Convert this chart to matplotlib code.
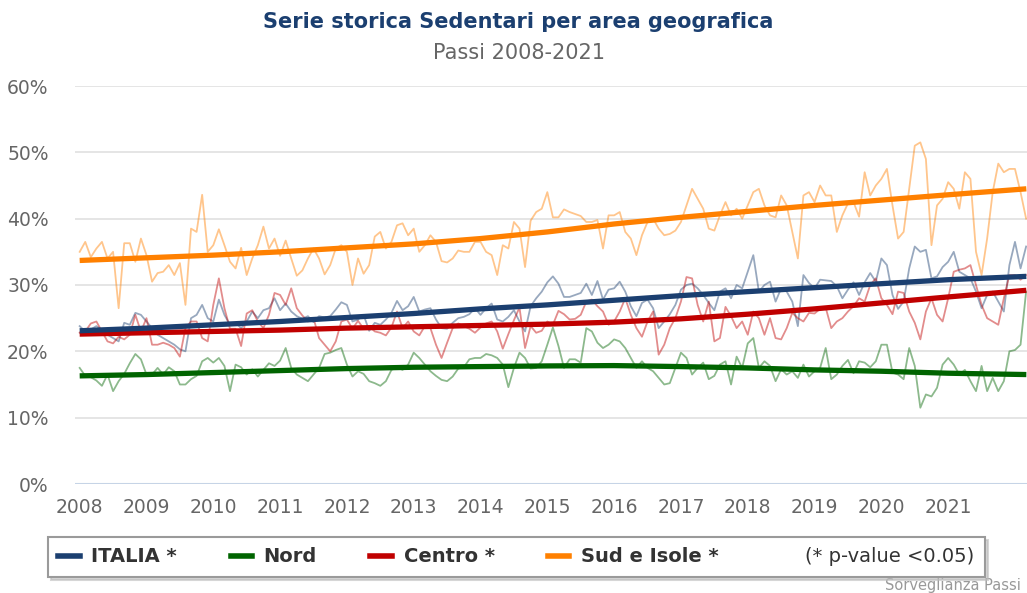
import numpy as np
import matplotlib
matplotlib.use("Agg")
import matplotlib.pyplot as plt
from matplotlib.lines import Line2D

# monthly values (%), Jan 2008 onwards
italia = [23.8, 23, 23.3, 23.8, 23.2, 22.5, 22, 21.5, 24.3, 24, 25.8, 25.5,
          24.5, 23.5, 22.5, 22, 21.5, 21, 20.3, 20, 25, 25.5, 27, 25,
          24.5, 27.8, 25.5, 24, 24.3, 23.5, 24.5, 26, 25, 26.2, 26.5, 28,
          26.2, 27.2, 26, 25.3, 24.9, 25.3, 24.4, 25.3, 25.1, 25.3, 26.3, 27.4,
          27, 24.5, 24.8, 25.5, 23.1, 24.3, 24, 24.8, 25.8, 27.6, 26.2, 26.8,
          28.2, 26, 26.3, 26.5, 24.8, 23.5, 23.4, 24.3, 25, 25.2, 25.6, 26.5,
          25.5, 26.5, 27.2, 24.8, 24.5, 25.2, 26.2, 24.5, 23, 26.8, 28, 29,
          30.4, 31.3, 30.2, 28.2, 28.2, 28.5, 28.8, 30.2, 28.5, 30.6, 27.8, 29.3,
          29.5, 30.5, 29, 26.8, 25.3, 27.3, 27.8, 26.5, 23.5, 24.5, 25.6, 27,
          29.3, 30, 30.2, 29.5, 28.5, 27.3, 26.2, 29, 29.5, 28, 30, 29.5,
          32, 34.5, 29, 30, 30.5, 27.5, 29.5, 29, 27.5, 23.8, 31.5, 30.3,
          29.5, 30.8, 30.7, 30.6, 29.8, 28, 29.3, 30.4, 28.5, 30.4, 31.8, 30.5,
          34, 33, 28.5, 26.4, 27.5, 32.5, 35.8, 35, 35.3, 31, 31.3, 32.7,
          33.5, 35, 32, 31.5, 31, 29, 26.5, 28.5, 29, 27.5, 26, 33,
          36.5, 32.5, 35.8]

nord = [17.5, 16.3, 16.1, 15.6, 14.8, 16.5, 14, 15.5, 16.6, 18.2, 19.6, 18.8,
        16.5, 16.5, 17.5, 16.5, 17.6, 17, 15, 15, 15.8, 16.3, 18.5, 19,
        18.3, 19, 17.8, 14, 18, 17.6, 16.5, 17.3, 16.2, 17.2, 18.2, 17.8,
        18.6, 20.5, 17.5, 16.5, 16, 15.5, 16.5, 17.5, 19.6, 19.8, 20.2, 20.5,
        18, 16.2, 17, 16.6, 15.5, 15.2, 14.8, 15.5, 17.2, 17.6, 17.2, 18,
        19.8, 19, 18, 17, 16.3, 15.7, 15.5, 16.2, 17.4, 17.6, 18.8, 19,
        19, 19.6, 19.4, 19, 18, 14.6, 17.5, 19.8, 19, 17.4, 17.5, 18.5,
        21, 23.6, 20.8, 17.5, 18.8, 18.8, 18.3, 23.5, 23, 21.3, 20.5, 21,
        21.8, 21.5, 20.5, 19, 17.5, 18.5, 17.5, 17, 16, 15, 15.2, 17.5,
        19.8, 19, 16.5, 17.5, 18.3, 15.8, 16.3, 18, 18.5, 15, 19.2, 17.5,
        21.2, 22, 17.5, 18.5, 17.8, 15.5, 17.3, 16.5, 17, 16, 18, 16.2,
        17, 17.5, 20.5, 15.8, 16.5, 17.8, 18.7, 16.7, 18.5, 18.3, 17.6, 18.5,
        21, 21, 16.8, 16.5, 15.8, 20.5, 17.8, 11.5, 13.5, 13.2, 14.5, 18,
        19, 18, 16.5, 17.2, 15.5, 14, 17.8, 14, 16, 14, 15.5, 20,
        20.2, 21, 29]

centro = [22.8, 23, 24.2, 24.5, 23, 21.5, 21.2, 22.2, 21.8, 22.5, 25.5, 23,
          25, 21, 21, 21.3, 21, 20.5, 19.2, 23.5, 24.5, 24.5, 22, 21.5,
          27, 31, 26.5, 23.4, 23.4, 20.8, 25.7, 26.2, 24.5, 23.5, 25.5, 28.8,
          28.5, 27, 29.5, 26.5, 25.4, 24.5, 25, 22, 21, 20, 21.5, 24.5,
          24.8, 23.4, 24.6, 23.4, 23.8, 23, 22.8, 22.4, 23.6, 26, 23.5, 24.5,
          23, 22.4, 23.8, 23.5, 21, 19, 21.3, 23.5, 24.2, 23.8, 23.4, 22.8,
          23.6, 24.2, 24.5, 23, 20.4, 22.6, 24.7, 26.6, 20.5, 23.8, 22.8, 23.1,
          24.5, 24, 26.1, 25.6, 24.8, 24.9, 25.5, 27.5, 27.8, 26.8, 26, 24,
          24.5, 26, 28, 25.5, 23.5, 22.2, 24.5, 26, 19.5, 21, 23.5, 25,
          27.5, 31.2, 31, 27, 24.5, 27.5, 21.5, 22, 26.7, 25.3, 23.5, 24.5,
          22.5, 26, 25, 22.5, 25, 22, 21.8, 23.5, 25.8, 25, 24.5, 25.8,
          25.7, 26.4, 26.6, 23.5, 24.5, 25, 26, 26.8, 28, 27.5, 30, 31,
          28, 27, 25.6, 29, 28.8, 26, 24.3, 21.8, 26, 28, 25.5, 24.5,
          28, 32, 32.3, 32.5, 33, 30, 27, 25, 24.5, 24, 28, 31.5,
          31.5, 30.8, 31.5]

sud = [35, 36.5, 34.2, 35.5, 36.5, 34, 35, 26.5, 36.3, 36.3, 33.5, 37,
       34.5, 30.5, 31.8, 32, 33, 31.5, 33.3, 27, 38.5, 38, 43.6, 35,
       36, 38.4, 36, 33.5, 32.5, 35.6, 31.5, 34, 36, 38.8, 35.5, 37,
       34.4, 36.7, 34, 31.4, 32.2, 34, 35.5, 34, 31.6, 33, 35.5, 36,
       35, 30, 34, 31.7, 33, 37.3, 38, 35.5, 36.5, 39, 39.3, 37.5,
       38.5, 35, 36, 37.5, 36.5, 33.6, 33.4, 34, 35.2, 35, 35, 36.5,
       36.5, 35, 34.5, 31.5, 36, 35.5, 39.5, 38.5, 32.7, 39.7, 41, 41.5,
       44, 40.2, 40.2, 41.4, 41, 40.7, 40.4, 39.5, 39.5, 39.8, 35.5, 40.5,
       40.5, 41, 38, 37, 34.5, 37.5, 39.5, 40, 38.5, 37.5, 37.7, 38.2,
       39.5, 42, 44.5, 43, 41.5, 38.5, 38.2, 40.5, 42.5, 40.5, 41.5, 40,
       42, 44, 44.5, 42, 40.5, 40.2, 43.5, 42, 38, 34, 43.5, 44,
       42.5, 45, 43.5, 43.5, 38, 40.5, 42.3, 42.5, 40.3, 47, 43.5, 45,
       46, 47.5, 42, 37, 38, 44.5, 51, 51.5, 49, 36, 42, 43,
       45.5, 44.5, 41.5, 47, 46, 35, 31.5, 37, 44, 48.3, 47, 47.5,
       47.5, 44, 40]

# trend lines
trend_years = [2008, 2009, 2010, 2011, 2012, 2013, 2014, 2015, 2016, 2017,
               2018, 2019, 2020, 2021, 2022.17]
italia_trend = [23.1, 23.5, 24.0, 24.5, 25.1, 25.7, 26.4, 27.0, 27.7, 28.4,
                29.0, 29.6, 30.2, 30.8, 31.3]
nord_trend = [16.3, 16.5, 16.8, 17.1, 17.4, 17.6, 17.7, 17.8, 17.85, 17.7,
              17.5, 17.2, 17.0, 16.7, 16.5]
centro_trend = [22.6, 22.8, 23.0, 23.2, 23.5, 23.7, 23.9, 24.1, 24.4, 24.9,
                25.6, 26.4, 27.3, 28.2, 29.2]
sud_trend = [33.7, 34.1, 34.5, 35.0, 35.6, 36.2, 37.0, 38.0, 39.2, 40.2,
             41.1, 42.0, 42.8, 43.6, 44.5]

years = list(range(2008, 2022))
labels = ["ITALIA *", "Nord", "Centro *", "Sud e Isole *"]
colors = ["#1b3f70", "#006400", "#c00000", "#ff8000"]

fig = plt.figure(figsize=(10.27, 5.93), dpi=100)
ax = fig.add_axes([75 / 1027, 109 / 593, 952 / 1027, 398 / 593])

series = [italia, nord, centro, sud]
trends = [italia_trend, nord_trend, centro_trend, sud_trend]

for vals, c in zip(series, colors):
    x = 2008 + np.arange(len(vals)) / 12
    ax.plot(x, vals, color=c, lw=1.3, alpha=0.45, zorder=2)

for vals, c in zip(trends[::-1], colors[::-1]):
    ax.plot(trend_years, vals, color=c, lw=3.8, solid_capstyle="butt", zorder=3)

ax.set_xlim(2007.93, 2022.18)
ax.set_ylim(0, 60)
ax.set_yticks(range(0, 61, 10))
ax.set_yticklabels([f"{v}%" for v in range(0, 61, 10)])
ax.set_xticks(years)
ax.set_xticklabels([str(y) for y in years])
ax.tick_params(length=0, labelsize=13.5, labelcolor="#666666")
ax.tick_params(axis="y", pad=19)
ax.tick_params(axis="x", pad=10)
for s in ax.spines.values():
    s.set_visible(False)
for v in range(10, 61, 10):
    ax.axhline(v, color="#e0e0e0", lw=1.2, zorder=1)
ax.axhline(0, color="#c6d4e6", lw=1.5, zorder=1)

fig.text(0.505, 0.963, "Serie storica Sedentari per area geografica",
         ha="center", va="center", fontsize=15, fontweight="bold", color="#1b3f70")
fig.text(0.505, 0.911, "Passi 2008-2021", ha="center", va="center",
         fontsize=15, color="#666666")

handles = [Line2D([], [], color=c, lw=4) for c in colors]
handles.append(Line2D([], [], color="none"))
leg = fig.legend(handles, labels + ["(* p-value <0.05)"], ncol=5,
                 loc="center", bbox_to_anchor=(38 / 1027, 16 / 593, 957 / 1027, 40 / 593),
                 mode="expand", fontsize=14, handlelength=1.1, handletextpad=0.6,
                 frameon=True, fancybox=False, edgecolor="#9a9a9a",
                 shadow={"color": "#bbbbbb", "alpha": 0.6}, borderpad=0.55)
leg.get_frame().set_linewidth(1.5)
for i, t in enumerate(leg.get_texts()):
    t.set_color("#333333")
    if i < 4:
        t.set_fontweight("bold")

fig.text(885 / 1027, 0.012, "Sorveglianza Passi", ha="left",
         va="center", fontsize=10.5, color="#999999")

fig.savefig("out.png", dpi=100, facecolor="white")
